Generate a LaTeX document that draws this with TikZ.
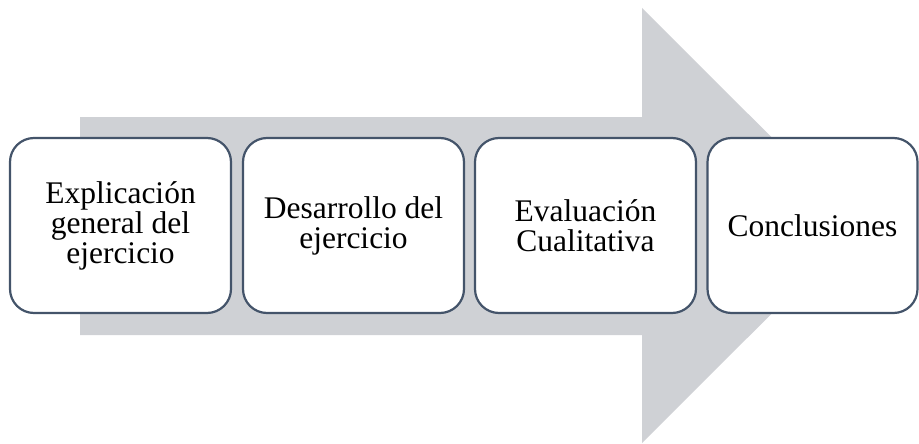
\documentclass[tikz,border=0pt]{standalone}
\usepackage{fontspec}
\setmainfont{Liberation Serif}
\definecolor{arrowgray}{HTML}{CFD1D5}
\definecolor{boxline}{HTML}{44546A}
\tikzset{
  stepbox/.style={draw=boxline, line width=2.2pt, fill=white, rounded corners=24pt,
    minimum height=175pt, inner sep=0pt, align=center,
    font=\fontsize{31.5}{30}\selectfont},
}
\begin{document}
\begin{tikzpicture}[x=1pt,y=-1pt]
\useasboundingbox (0,0) rectangle (919,444);
\fill[arrowgray] (80,117) -- (642,117) -- (642,8) -- (860,225.5) -- (642,443) -- (642,335) -- (80,335) -- cycle;
\node[stepbox, minimum width=221pt] (b1) at (120.5,225.5) {Explicación\\general del\\ejercicio};
\node[stepbox, minimum width=221pt] (b2) at (353.5,225.5) {Desarrollo del\\ejercicio};
\node[stepbox, minimum width=221pt] (b3) at (585.5,225.5) {Evaluación\\Cualitativa};
\node[stepbox, minimum width=210pt] (b4) at (812.5,225.5) {Conclusiones};
\end{tikzpicture}
\end{document}
